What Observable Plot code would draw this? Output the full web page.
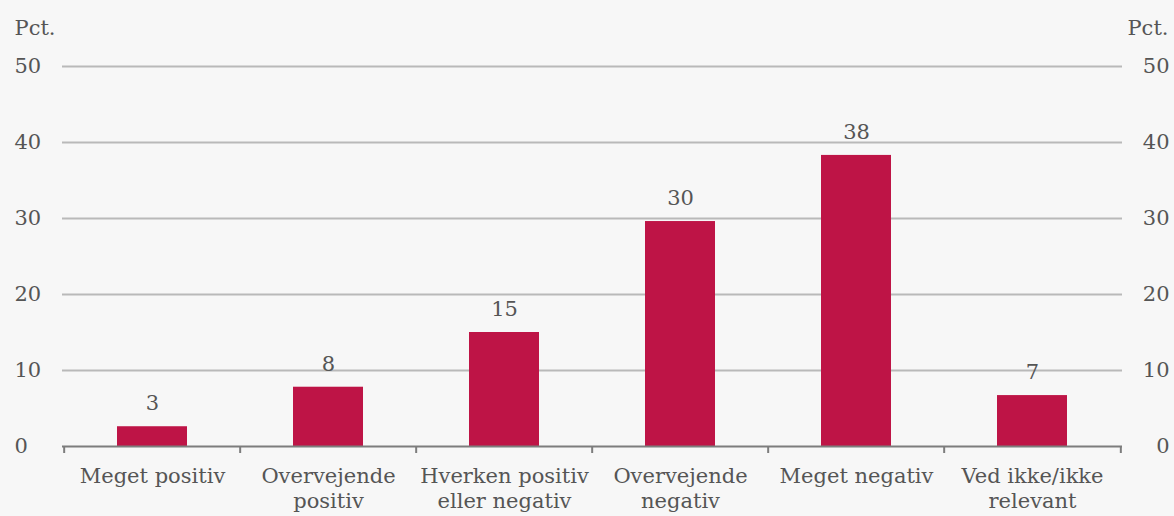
<!DOCTYPE html>
<html>
<head>
<meta charset="utf-8">
<script src="https://cdn.jsdelivr.net/npm/d3@7"></script>
<script src="https://cdn.jsdelivr.net/npm/@observablehq/plot@0.6"></script>
<style>
  html, body { margin: 0; padding: 0; background: #f7f7f7; }
  #chart svg { display: block; }
</style>
</head>
<body>
<div id="chart"></div>
<script>
const categories = ["Meget positiv", "Overvejende\npositiv", "Hverken positiv\neller negativ", "Overvejende\nnegativ", "Meget negativ", "Ved ikke/ikke\nrelevant"];
const values = [2.6, 7.8, 15.0, 29.6, 38.3, 6.7];
const valueLabels = ["3", "8", "15", "30", "38", "7"];
const yTicks = [0, 10, 20, 30, 40, 50];
const unitLabel = "Pct.";

const data = categories.map((c, i) => ({cat: c, value: values[i], label: valueLabels[i]}));
const W = 1174, ML = 62, MR = 52;
const step = (W - ML - MR) / categories.length;
const textColor = "#555555";
const FS = 21;

const chart = Plot.plot({
  width: W,
  height: 516,
  marginLeft: ML,
  marginRight: MR,
  marginTop: 66,
  marginBottom: 70,
  style: {background: "#f7f7f7", fontFamily: "DejaVu Serif", fontSize: FS + "px", color: textColor},
  x: {domain: categories, padding: 0, axis: null},
  y: {domain: [0, 50], axis: null},
  marks: [
    Plot.gridY(yTicks.filter(d => d > 0), {stroke: "#b9b9b9", strokeOpacity: 1, strokeWidth: 2}),
    Plot.barY(data, {x: "cat", y: "value", fill: "#be1446", insetLeft: 53, insetRight: 53}),
    Plot.ruleY([0], {stroke: "#7d7d7d", strokeWidth: 2}),
    Plot.axisX(categories, {tickSize: 7, tickFormat: () => "", label: null, dx: -step / 2, stroke: "#7d7d7d", strokeWidth: 2}),
    Plot.axisX([categories[categories.length - 1]], {tickSize: 7, tickFormat: () => "", label: null, dx: step / 2, stroke: "#7d7d7d", strokeWidth: 2}),
    Plot.axisX({tickSize: 0, tickPadding: 18, label: null, lineHeight: 1.22, fontSize: FS, fill: textColor}),
    Plot.text(data, {x: "cat", y: "value", text: "label", dy: -23, lineAnchor: "middle", fontSize: FS, fill: textColor}),
    Plot.text(yTicks, {y: d => d, text: d => String(d), frameAnchor: "left", dx: -48, textAnchor: "start", lineAnchor: "middle", fontSize: FS, fill: textColor}),
    Plot.text(yTicks, {y: d => d, text: d => String(d), frameAnchor: "right", dx: 47, textAnchor: "end", lineAnchor: "middle", fontSize: FS, fill: textColor}),
    Plot.text([unitLabel], {frameAnchor: "top-left", dx: -48, dy: -38, textAnchor: "start", lineAnchor: "middle", fontSize: FS, fill: textColor}),
    Plot.text([unitLabel], {frameAnchor: "top-right", dx: 46, dy: -38, textAnchor: "end", lineAnchor: "middle", fontSize: FS, fill: textColor})
  ]
});
document.getElementById("chart").appendChild(chart);
</script>
</body>
</html>
